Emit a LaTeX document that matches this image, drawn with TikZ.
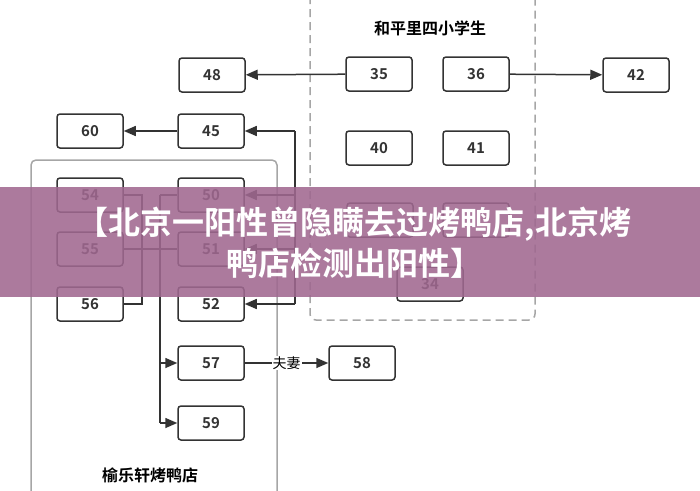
\documentclass[tikz,border=0pt]{standalone}
\usepackage{fontspec}
\newfontfamily\cjk{Noto Sans CJK SC}
\newfontfamily\cjkb{Noto Sans CJK SC Bold}
\usetikzlibrary{arrows.meta,positioning,calc}

\begin{document}
\begin{tikzpicture}[x=1pt,y=-1pt,
    box/.style={draw=black!80,line width=1.5pt,rounded corners=3pt,minimum width=66pt,minimum height=34pt,font=\cjkb\fontsize{15}{15}\selectfont,text=black!80},
    link/.style={draw=black!80,line width=1.5pt},
    arr/.style={link,-{Triangle[length=12pt,width=10pt]}}]
    \useasboundingbox (0,0) rectangle (700,490);
    \cjk
    %%% groups
    \draw[gray!70,line width=1.5pt,dashed,dash pattern=on 8pt off 5pt,rounded corners=6pt] (310,-10) rectangle (535,320);
    \node[font=\cjkb\fontsize{16}{16}\selectfont] (school) at (430,28) {和平里四小学生};
    \draw[gray!70,line width=1.5pt,rounded corners=5pt] (31,160) rectangle (277,500);
    \node[font=\cjkb\fontsize{16}{16}\selectfont] (duck) at (150,475) {榆乐轩烤鸭店};

    %%% cases
    \node[box] (n48) at (212,75) {48};
    \node[box] (n35) at (379,74) {35};
    \node[box] (n36) at (476,74) {36};
    \node[box] (n42) at (636,75) {42};
    \node[box] (n60) at (90,131) {60};
    \node[box] (n45) at (211,131) {45};
    \node[box] (n40) at (379,148) {40};
    \node[box] (n41) at (476,148) {41};
    \node[box] (nh1) at (380,220) {};
    \node[box] (nh2) at (476,220) {};
    \node[box] (n34) at (430,284) {34};
    \node[box] (n54) at (90,195) {54};
    \node[box] (n50) at (211,195) {50};
    \node[box] (n55) at (90,249) {55};
    \node[box] (n51) at (211,249) {51};
    \node[box] (n56) at (90,304) {56};
    \node[box] (n52) at (211,304) {52};
    \node[box] (n57) at (211,363) {57};
    \node[box] (n58) at (362,363) {58};
    \node[box] (n59) at (211,423) {59};

    %%% links
    \coordinate (r1) at (295,131);
    \coordinate (r2) at (295,304);
    \coordinate (l1) at (142,195);
    \coordinate (l2) at (142,304);
    \coordinate (t1) at (160,195);
    \coordinate (t2) at (160,423);
    \draw[arr] (n35) -- (n48);
    \draw[arr] (n45) -- (n60);
    \draw[arr] (n36) -- (n42);
    \draw[link] (r1) -- (r2);
    \draw[arr] (r1) -- (n45);
    \draw[arr] (n50.east -| r1) -- (n50);
    \draw[arr] (n51.east -| r1) -- (n51);
    \draw[arr] (r2) -- (n52);
    \draw[link] (n54) -- (l1) -- (l2) -- (n56);
    \draw[link] (n55) -- (n51);
    \draw[link] (t1) -- (n50);
    \draw[link] (t1) -- (t2);
    \draw[arr] (n57.west -| t1) -- (n57);
    \draw[arr] (t2) -- (n59);
    \draw[arr] (n57) -- node[fill=white,inner sep=1pt,font=\cjk\fontsize{14}{14}\selectfont] (wed) {夫妻} (n58);

    %%% banner
    \fill[fill={rgb,255:red,160;green,104;blue,144},opacity=0.88] (0,187) rectangle (700,297);
    \node[text=white,font=\cjkb\fontsize{32}{32}\selectfont,align=center] (title) at (354,243)
        {【北京一阳性曾隐瞒去过烤鸭店,北京烤\\[5pt]鸭店检测出阳性】};
\end{tikzpicture}
\end{document}
